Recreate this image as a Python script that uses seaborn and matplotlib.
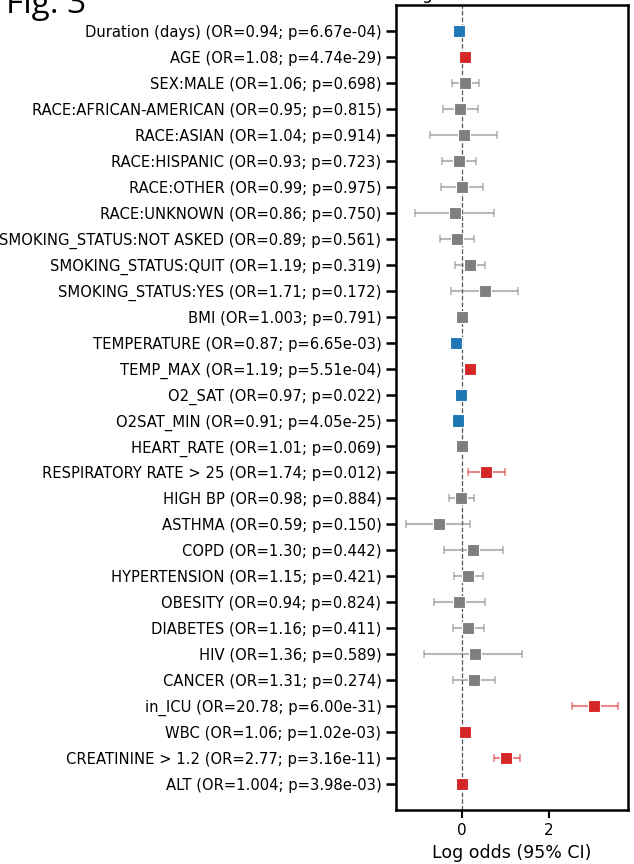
import numpy as np
import pandas as pd
import matplotlib
matplotlib.use("Agg")
import matplotlib.pyplot as plt
import seaborn as sns

# variables, odds ratios, p-values, and 95% CI of the log odds
variables = ["Duration (days)", "AGE", "SEX:MALE", "RACE:AFRICAN-AMERICAN", "RACE:ASIAN",
             "RACE:HISPANIC", "RACE:OTHER", "RACE:UNKNOWN", "SMOKING_STATUS:NOT ASKED",
             "SMOKING_STATUS:QUIT", "SMOKING_STATUS:YES", "BMI", "TEMPERATURE", "TEMP_MAX",
             "O2_SAT", "O2SAT_MIN", "HEART_RATE", "RESPIRATORY RATE > 25", "HIGH BP",
             "ASTHMA", "COPD", "HYPERTENSION", "OBESITY", "DIABETES", "HIV", "CANCER",
             "in_ICU", "WBC", "CREATININE > 1.2", "ALT"]
odds_ratio = ["0.94", "1.08", "1.06", "0.95", "1.04", "0.93", "0.99", "0.86", "0.89", "1.19",
              "1.71", "1.003", "0.87", "1.19", "0.97", "0.91", "1.01", "1.74", "0.98", "0.59",
              "1.30", "1.15", "0.94", "1.16", "1.36", "1.31", "20.78", "1.06", "2.77", "1.004"]
p_value = ["6.67e-04", "4.74e-29", "0.698", "0.815", "0.914", "0.723", "0.975", "0.750",
           "0.561", "0.319", "0.172", "0.791", "6.65e-03", "5.51e-04", "0.022", "4.05e-25",
           "0.069", "0.012", "0.884", "0.150", "0.442", "0.421", "0.824", "0.411", "0.589",
           "0.274", "6.00e-31", "1.02e-03", "3.16e-11", "3.98e-03"]
ci_low = [-0.09, 0.06, -0.24, -0.43, -0.74, -0.46, -0.48, -1.08, -0.50, -0.16,
          -0.25, -0.02, -0.24, 0.08, -0.06, -0.11, -0.001, 0.14, -0.30, -1.29,
          -0.41, -0.19, -0.65, -0.20, -0.88, -0.21, 2.54, 0.02, 0.73, 0.001]
ci_high = [-0.03, 0.09, 0.39, 0.36, 0.80, 0.32, 0.48, 0.74, 0.28, 0.54,
           1.29, 0.025, -0.04, 0.27, -0.005, -0.08, 0.021, 0.99, 0.28, 0.18,
           0.94, 0.49, 0.53, 0.51, 1.39, 0.76, 3.58, 0.09, 1.34, 0.007]

df = pd.DataFrame({"var": variables, "OR": odds_ratio, "p": p_value,
                   "lo": ci_low, "hi": ci_high})
df["log_or"] = np.log(df["OR"].astype(float))
df["pnum"] = df["p"].astype(float)
df["effect"] = np.where(df["pnum"] >= 0.05, "ns", np.where(df["log_or"] > 0, "up", "down"))
df["label"] = df["var"] + " (OR=" + df["OR"] + "; p=" + df["p"] + ")"
df["row"] = np.arange(len(df))

colors = {"ns": "#7f7f7f", "up": "#d62728", "down": "#1f77b4"}

sns.set_style("ticks")
plt.rcParams["font.family"] = ["DejaVu Sans"]
plt.rcParams["text.color"] = "black"
plt.rcParams["axes.labelcolor"] = "black"
plt.rcParams["xtick.color"] = "black"
plt.rcParams["ytick.color"] = "black"
plt.rcParams["axes.edgecolor"] = "black"

fig = plt.figure(figsize=(6.34, 8.64), dpi=100)
ax = fig.add_axes([0.6246, 0.0625, 0.3659, 0.9317])

ax.axvline(0, color="#555555", lw=0.9, ls="--", zorder=0)
for eff, sub in df.groupby("effect"):
    ax.errorbar(sub["log_or"], sub["row"],
                xerr=[sub["log_or"] - sub["lo"], sub["hi"] - sub["log_or"]],
                fmt="none", ecolor=colors[eff], alpha=0.55, elinewidth=1.5,
                capsize=3, capthick=1.2, zorder=1)
sns.scatterplot(data=df, x="log_or", y="row", hue="effect", palette=colors,
                marker="s", s=75, edgecolor="w", linewidth=0.8, legend=False,
                ax=ax, zorder=3)

ax.set_yticks(df["row"])
ax.set_yticklabels(df["label"], fontsize=10.6)
ax.set_ylim(len(df), -1)
ax.set_xlim(-1.52, 3.82)
ax.set_xticks([0, 2])
ax.tick_params(axis="x", labelsize=11, length=6, width=1.5)
ax.tick_params(axis="y", length=7, width=1.8)
ax.set_xlabel("Log odds (95% CI)", fontsize=12.5)
ax.set_ylabel("")
ax.set_title("Target: recovered vs. death", fontsize=12, pad=4.5)
for sp in ax.spines.values():
    sp.set_linewidth(1.8)

fig.text(0.01, 1 - 13 / 864, "Fig. 3", fontsize=24, family="Open Sans", va="baseline")

fig.savefig("out.png", dpi=100)
